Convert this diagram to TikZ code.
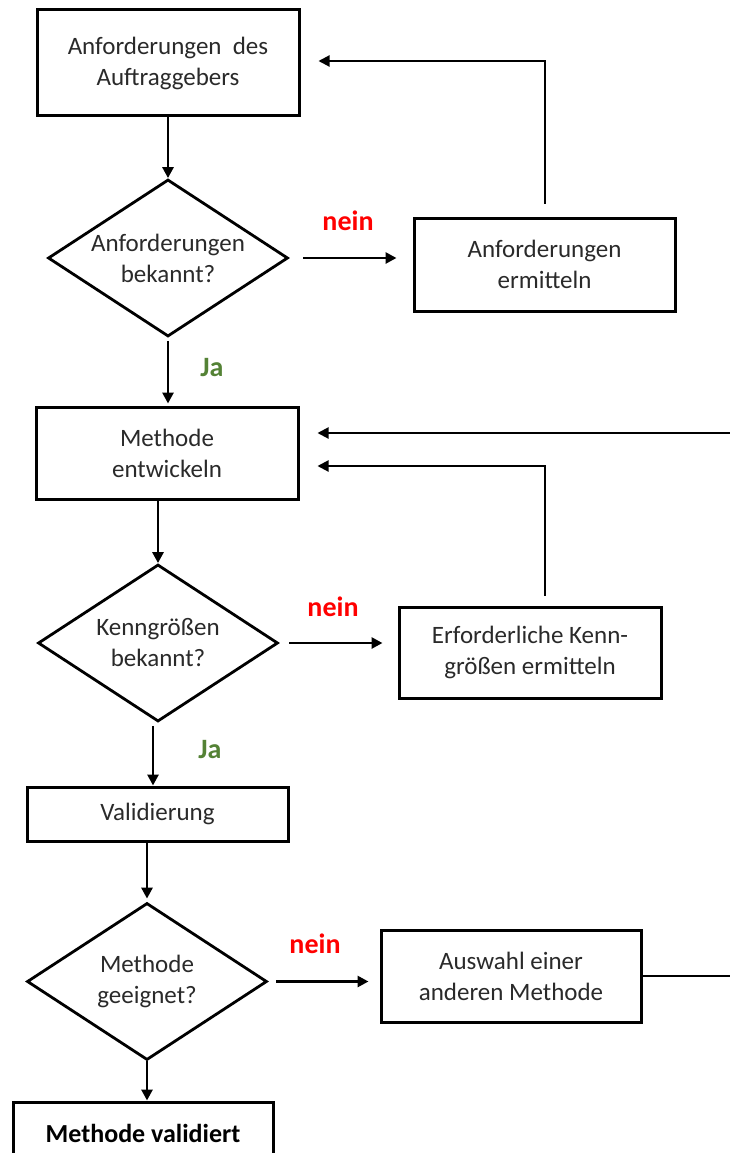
\documentclass[tikz,border=0pt]{standalone}
\usepackage{fontspec}
\setmainfont{Carlito}
\usetikzlibrary{shapes.geometric,arrows.meta,calc}
\definecolor{txt}{HTML}{2A2A2A}
\definecolor{neinred}{HTML}{FF0000}
\definecolor{jagreen}{HTML}{548235}
\begin{document}
\begin{tikzpicture}[x=1pt,y=-1pt,
  box/.style={draw=black,line width=3pt,rectangle,inner sep=0pt,align=center,text=txt,
    font=\fontsize{25}{31}\selectfont},
  dec/.style={draw=black,line width=2.8pt,diamond,inner sep=-12pt,align=center,text=txt,
    font=\fontsize{25}{31}\selectfont,minimum width=240pt,minimum height=157pt,aspect=1.53},
  arr/.style={line width=2.8pt,-{Triangle[length=11pt,width=11pt]}},
  fb/.style={line width=2pt,-{Triangle[length=11pt,width=11pt]}},
  lblno/.style={text=neinred,font=\fontsize{28}{28}\selectfont\bfseries},
  lblyes/.style={text=jagreen,font=\fontsize{28}{28}\selectfont\bfseries}
]
\useasboundingbox (0,0) rectangle (729,1153);
\fill[white] (0,0) rectangle (729,1153);

% nodes
\node[box,minimum width=262pt,minimum height=106pt] (b1) at (168,63) {Anforderungen\ \ des\\Auftraggebers};
\node[dec] (d1) at (168,258) {Anforderungen\\bekannt?};
\node[box,minimum width=261pt,minimum height=93pt] (b2) at (544.5,264.5) {Anforderungen\\ermitteln};
\node[box,minimum width=262pt,minimum height=92pt] (b3) at (167,453) {Methode\\entwickeln};
\node[dec] (d2) at (158,643) {Kenngrößen\\bekannt?};
\node[box,minimum width=262pt,minimum height=91pt] (b4) at (530,652.5) {Erforderliche Kenn-\\größen ermitteln};
\node[box,minimum width=261pt,minimum height=54pt] (b5) at (157.5,814) {Validierung};
\node[dec] (d3) at (147,981.5) {Methode\\geeignet?};
\node[box,minimum width=260pt,minimum height=92pt] (b6) at (511,976) {Auswahl einer\\anderen Methode};
\node[box,minimum width=260pt,minimum height=62pt,font=\fontsize{26}{31}\selectfont\bfseries,text=black] (b7) at (143,1133) {Methode validiert};
\coordinate (edge) at (735,433);

% labels
\node[lblno] (n1) at (348,221) {nein};
\node[lblno] (n2) at (333,607) {nein};
\node[lblno] (n3) at (315,944) {nein};
\node[lblyes] (j1) at (212,368) {Ja};
\node[lblyes] (j2) at (210,750) {Ja};

% main flow
\draw[arr] (b1.south) -- (d1.north);
\draw[arr,shorten <=3pt,shorten >=2pt] (d1.south) -- (d1.south |- b3.north);
\draw[arr] (b3.south -| d2.north) -- (d2.north);
\draw[arr,shorten <=3pt] ([xshift=-5pt]d2.south) -- ([xshift=-5pt]d2.south |- b5.north);
\draw[arr,shorten >=3pt] (b5.south -| d3.north) -- (d3.north);
\draw[arr] (d3.south) -- (d3.south |- b7.north);

% nein branches
\draw[arr,shorten <=14pt,shorten >=16pt] (d1.east) -- (d1.east -| b2.west);
\draw[arr,shorten <=10pt,shorten >=15pt] (d2.east) -- (d2.east -| b4.west);
\draw[arr,shorten <=8pt,shorten >=11pt] (d3.east) -- (d3.east -| b6.west);

% feedback
\draw[fb] ([yshift=13pt]b2.north) |- ([xshift=18pt,yshift=2pt]b1.east);
\draw[fb] ([xshift=15pt,yshift=10pt]b4.north) |- ([xshift=18pt,yshift=-13pt]b3.east);
\draw[fb] (b6.east) -| (edge) -- ([xshift=18pt,yshift=20pt]b3.east);
\end{tikzpicture}
\end{document}
